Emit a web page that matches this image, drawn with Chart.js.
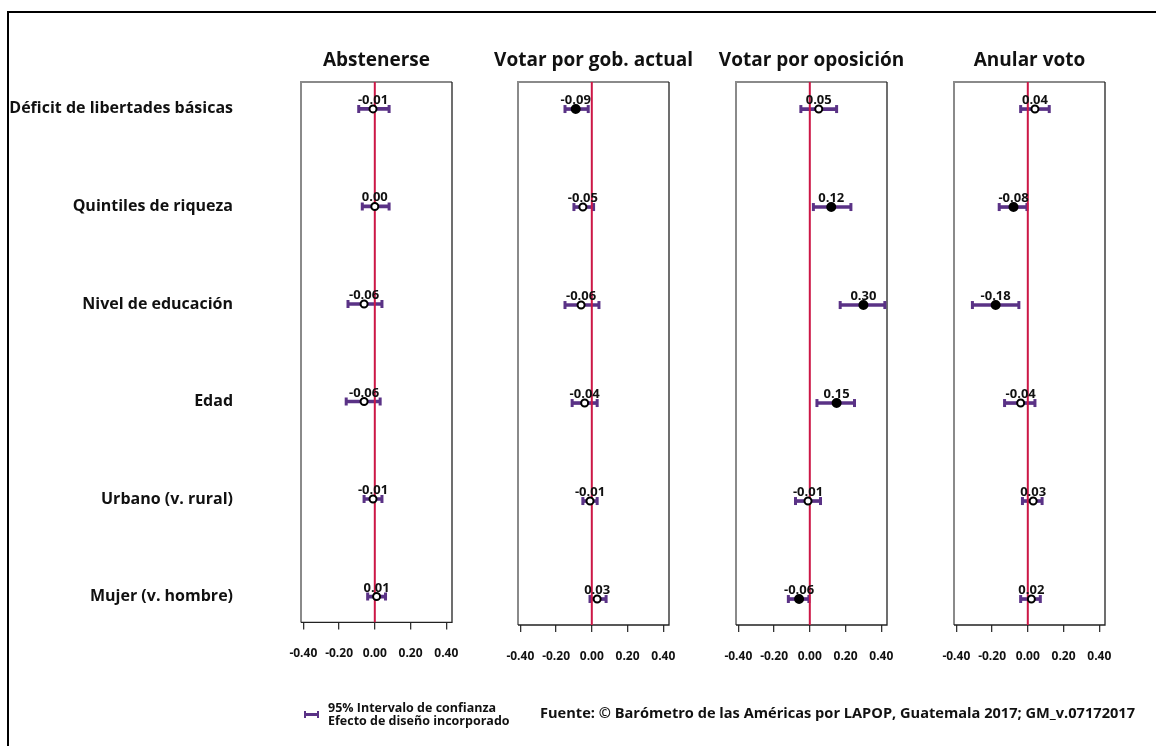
<!DOCTYPE html>
<html>
<head>
<meta charset="utf-8">
<script src="https://cdn.jsdelivr.net/npm/chart.js@4.4.1/dist/chart.umd.min.js"></script>
<style>
  html, body { margin: 0; padding: 0; background: #fff; }
  body { width: 1156px; height: 746px; position: relative; overflow: hidden; font-family: 'Open Sans', sans-serif; }
  .frame { position: absolute; left: 7px; top: 11px; right: -5px; bottom: -5px; border-left: 2px solid #000; border-top: 2px solid #000; }
  canvas { position: absolute; top: 0; }
  .legend { position: absolute; left: 304px; top: 702px; display: flex; align-items: center; }
  .legend .bar { width: 15px; height: 3px; background: #5a3286; position: relative; margin-right: 9px; }
  .legend .bar:before, .legend .bar:after { content: ""; position: absolute; top: -2px; width: 2px; height: 7px; background: #5a3286; }
  .legend .bar:before { left: 0; } .legend .bar:after { right: 0; }
  .legend .txt { font: bold 12.5px 'Open Sans', sans-serif; line-height: 12.5px; color: #111; }
  .source { position: absolute; left: 540px; top: 702px; font: bold 14.6px 'Open Sans', sans-serif; color: #111; white-space: nowrap; }
</style>
</head>
<body>
<div class="frame"></div>
<canvas id="c0" width="753" height="700" style="left:0px;width:753px;height:700px"></canvas>
<canvas id="c1" width="351" height="700" style="left:418px;width:351px;height:700px"></canvas>
<canvas id="c2" width="351" height="700" style="left:636px;width:351px;height:700px"></canvas>
<canvas id="c3" width="351" height="700" style="left:854px;width:351px;height:700px"></canvas>
<div class="legend"><div class="bar"></div><div class="txt">95% Intervalo de confianza<br>Efecto de diseño incorporado</div></div>
<div class="source">Fuente: © Barómetro de las Américas por LAPOP, Guatemala 2017; GM_v.07172017</div>
<script>
const categories = ["Déficit de libertades básicas", "Quintiles de riqueza", "Nivel de educación", "Edad", "Urbano (v. rural)", "Mujer (v. hombre)"]
const panelTitles = ["Abstenerse", "Votar por gob. actual", "Votar por oposición", "Anular voto"]
const xTickValues = [-0.4, -0.2, 0, 0.2, 0.4]

const coefAbstenerse = [-0.01, 0.00, -0.06, -0.06, -0.01, 0.01]
const loAbstenerse = [-0.09, -0.07, -0.15, -0.16, -0.06, -0.04]
const hiAbstenerse = [0.08, 0.08, 0.04, 0.03, 0.04, 0.06]

const coefGobierno = [-0.09, -0.05, -0.06, -0.04, -0.01, 0.03]
const loGobierno = [-0.15, -0.10, -0.15, -0.11, -0.05, -0.01]
const hiGobierno = [-0.02, 0.01, 0.04, 0.03, 0.03, 0.08]

const coefOposicion = [0.05, 0.12, 0.30, 0.15, -0.01, -0.06]
const loOposicion = [-0.05, 0.02, 0.17, 0.04, -0.08, -0.12]
const hiOposicion = [0.15, 0.23, 0.42, 0.25, 0.06, -0.005]

const coefAnular = [0.04, -0.08, -0.18, -0.04, 0.03, 0.02]
const loAnular = [-0.04, -0.16, -0.31, -0.13, -0.03, -0.04]
const hiAnular = [0.12, -0.005, -0.05, 0.04, 0.08, 0.07]

const purple = "#5a3286"
const crimson = "#cc1746"
const xMin = -0.413, xMax = 0.432
const yMin = -0.276, yMax = 5.265

Chart.defaults.font.family = "'Open Sans', sans-serif"
Chart.defaults.color = "#111"

// panel border: lighter left/top, darker right/bottom
const framePlugin = {
  id: "frame",
  beforeDatasetsDraw(chart) {
    const { ctx, chartArea: a } = chart
    ctx.save()
    ctx.strokeStyle = "#8a8a8a"
    ctx.lineWidth = 2
    ctx.beginPath()
    ctx.moveTo(a.left, a.bottom); ctx.lineTo(a.left, a.top); ctx.lineTo(a.right, a.top)
    ctx.stroke()
    ctx.strokeStyle = "#222"
    ctx.lineWidth = 1.3
    ctx.beginPath()
    ctx.moveTo(a.right, a.top); ctx.lineTo(a.right, a.bottom); ctx.lineTo(a.left, a.bottom)
    ctx.stroke()
    ctx.restore()
  }
}

// value labels above each point
const valueLabels = {
  id: "valueLabels",
  afterDatasetsDraw(chart) {
    const meta = chart.getDatasetMeta(0)
    const ctx = chart.ctx
    ctx.save()
    ctx.font = "bold 13px 'Open Sans', sans-serif"
    ctx.fillStyle = "#111"
    ctx.textAlign = "center"
    ctx.textBaseline = "alphabetic"
    meta.data.forEach((pt, i) => {
      const v = chart.data.datasets[0].data[i].x
      ctx.fillText(v.toFixed(2), pt.x, pt.y - 5)
    })
    ctx.restore()
  }
}

// side = width of the empty side boxes around the panel (keeps title centred on the panel)
function makeChart(id, title, coef, lo, hi, showLabels, side) {
  const sig = coef.map((v, i) => lo[i] > 0 || hi[i] < 0)
  const caps = []
  lo.forEach((v, i) => { caps.push({ x: v, y: i }); caps.push({ x: hi[i], y: i }) })
  new Chart(document.getElementById(id), {
    type: "scatter",
    data: {
      datasets: [
        {
          data: coef.map((v, i) => ({ x: v, y: i })),
          pointRadius: sig.map(s => s ? 4 : 3.5),
          pointBackgroundColor: sig.map(s => s ? "#000" : "#fff"),
          pointBorderColor: "#000",
          pointBorderWidth: 2,
          order: 0
        },
        {
          type: "line",
          data: [{ x: 0, y: yMin }, { x: 0, y: yMax }],
          borderColor: crimson,
          borderWidth: 2,
          pointRadius: 0,
          order: 1
        },
        {
          data: caps,
          pointStyle: "line",
          rotation: 90,
          pointRadius: 4,
          pointBorderWidth: 3,
          pointBorderColor: purple,
          order: 2
        },
        {
          type: "bar",
          indexAxis: "y",
          data: lo.map((v, i) => ({ x: [v, hi[i]], y: i })),
          backgroundColor: purple,
          barThickness: 3,
          order: 3
        }
      ]
    },
    options: {
      animation: false,
      responsive: false,
      layout: { padding: { left: 0, right: 0, top: 0, bottom: 25 } },
      plugins: {
        legend: { display: false },
        tooltip: { enabled: false },
        title: {
          display: true,
          text: title,
          font: { size: 19, weight: "bold" },
          color: "#111",
          padding: { top: 49.4, bottom: 9.8 }
        }
      },
      scales: {
        x: {
          type: "linear",
          min: xMin,
          max: xMax,
          offset: false,
          afterBuildTicks: s => { s.ticks = xTickValues.map(v => ({ value: v })) },
          afterFit: s => { s.height = 50 },
          grid: { offset: false, drawOnChartArea: false, drawTicks: true, tickLength: 7, color: "#333", lineWidth: 1.3 },
          border: { display: false },
          ticks: { padding: 17, font: { size: 12, weight: "bold" }, color: "#111", maxRotation: 0, callback: v => v.toFixed(2) }
        },
        y: {
          type: "linear",
          offset: false,
          reverse: true,
          min: yMin,
          max: yMax,
          afterBuildTicks: s => { s.ticks = categories.map((c, i) => ({ value: i })) },
          afterFit: s => { s.width = side },
          grid: { offset: false, display: false, drawTicks: false },
          border: { display: false },
          ticks: { display: showLabels, padding: 68, font: { size: 16, weight: "bold" }, color: "#111", callback: v => categories[v] }
        },
        y2: {
          type: "linear",
          axis: "y",
          position: "right",
          min: yMin,
          max: yMax,
          afterFit: s => { s.width = side },
          grid: { display: false, drawTicks: false },
          border: { display: false },
          ticks: { display: false }
        }
      }
    },
    plugins: [framePlugin, valueLabels]
  })
}

makeChart("c0", panelTitles[0], coefAbstenerse, loAbstenerse, hiAbstenerse, true, 301)
makeChart("c1", panelTitles[1], coefGobierno, loGobierno, hiGobierno, false, 100)
makeChart("c2", panelTitles[2], coefOposicion, loOposicion, hiOposicion, false, 100)
makeChart("c3", panelTitles[3], coefAnular, loAnular, hiAnular, false, 100)
</script>
</body>
</html>
